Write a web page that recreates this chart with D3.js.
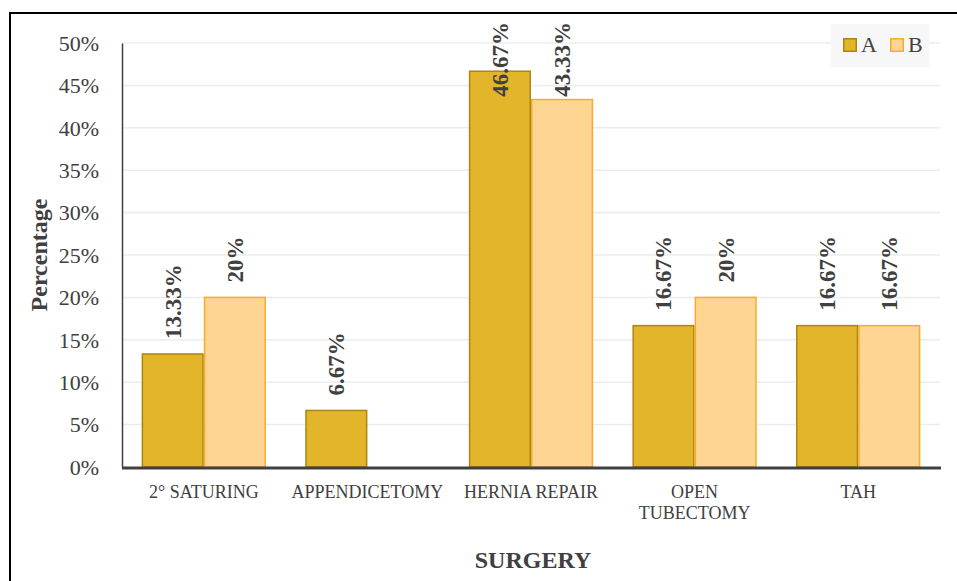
<!DOCTYPE html>
<html>
<head>
<meta charset="utf-8">
<script src="https://cdn.jsdelivr.net/npm/d3@7"></script>
<style>
  html, body { margin: 0; padding: 0; background: #ffffff; }
  svg { display: block; }
  text { font-family: "Liberation Serif", "Times New Roman", serif; fill: #404040; }
</style>
</head>
<body>
<svg id="chart" width="957" height="581"></svg>
<script>
// Surgery categories and the share of each group (A, B)
const categories = ["2° SATURING", "APPENDICETOMY", "HERNIA REPAIR", "OPEN TUBECTOMY", "TAH"];
const categoryLines = [["2° SATURING"], ["APPENDICETOMY"], ["HERNIA REPAIR"], ["OPEN", "TUBECTOMY"], ["TAH"]];
const seriesNames = ["A", "B"];
const valuesA = [13.33, 6.67, 46.67, 16.67, 16.67];
const valuesB = [20, 0, 43.33, 20, 16.67];
const labelsA = ["13.33%", "6.67%", "46.67%", "16.67%", "16.67%"];
const labelsB = ["20%", "", "43.33%", "20%", "16.67%"];
const yTicks = [0, 5, 10, 15, 20, 25, 30, 35, 40, 45, 50];

const fills = { A: "#E2B52A", B: "#FED593" };
const strokes = { A: "#AD860F", B: "#FBAA2C" };

const svg = d3.select("#chart");

// outer frame
svg.append("rect")
  .attr("x", 10).attr("y", 13)
  .attr("width", 1000).attr("height", 600)
  .attr("fill", "#ffffff")
  .attr("stroke", "#000000").attr("stroke-width", 2);

const plotLeft = 122, plotRight = 940, plotTop = 43, plotBottom = 467;

const x = d3.scaleBand().domain(categories).range([plotLeft, plotRight])
  .paddingInner(0.24).paddingOuter(0.12);
const xs = d3.scaleBand().domain(seriesNames).range([0, x.bandwidth()]);
const y = d3.scaleLinear().domain([0, 50]).range([plotBottom, plotTop]);

// horizontal gridlines
svg.append("g").selectAll("line").data(yTicks.filter(t => t > 0)).join("line")
  .attr("x1", plotLeft).attr("x2", plotRight)
  .attr("y1", d => y(d)).attr("y2", d => y(d))
  .attr("stroke", "#ececec").attr("stroke-width", 1.5);

// y axis
const yAxis = d3.axisLeft(y).tickValues(yTicks).tickFormat(d => d + "%").tickSize(0).tickPadding(23);
const gy = svg.append("g").attr("transform", `translate(${plotLeft},0)`).call(yAxis);
gy.select(".domain").attr("stroke", "#404040").attr("stroke-width", 1.5);
gy.selectAll("text")
  .attr("font-size", 22)
  .attr("dy", "0.33em")
  .style("font-family", "'Liberation Serif', serif")
  .attr("fill", "#404040");

// bars
const rows = categories.map((c, i) => ({
  cat: c,
  items: [
    { s: "A", v: valuesA[i], label: labelsA[i] },
    { s: "B", v: valuesB[i], label: labelsB[i] }
  ]
}));

const groups = svg.append("g").selectAll("g").data(rows).join("g")
  .attr("transform", d => `translate(${x(d.cat)},0)`);

groups.selectAll("rect").data(d => d.items.filter(e => e.v > 0)).join("rect")
  .attr("x", d => xs(d.s) + 0.75)
  .attr("width", xs.bandwidth() - 1.5)
  .attr("y", d => y(d.v))
  .attr("height", d => y(0) - y(d.v))
  .attr("fill", d => fills[d.s])
  .attr("stroke", d => strokes[d.s])
  .attr("stroke-width", 1.5);

// value labels, rotated; kept inside the plot top when the bar is tall
groups.selectAll("text.val").data(d => d.items.filter(e => e.label !== "")).join("text")
  .attr("class", "val")
  .attr("font-size", 23)
  .attr("font-weight", "bold")
  .attr("text-anchor", "start")
  .attr("dy", "0.34em")
  .text(d => d.label)
  .each(function(d) {
    const len = this.getComputedTextLength();
    const y0 = Math.max(y(d.v) - 15, 22 + len);
    const cx = xs(d.s) + xs.bandwidth() / 2;
    d3.select(this).attr("transform", `translate(${cx},${y0}) rotate(-90)`);
  });

// baseline
svg.append("line")
  .attr("x1", plotLeft).attr("x2", plotRight + 1)
  .attr("y1", plotBottom + 1).attr("y2", plotBottom + 1)
  .attr("stroke", "#404040").attr("stroke-width", 3);

// category labels
const catG = svg.append("g").selectAll("text").data(categories).join("text")
  .attr("x", d => x(d) + x.bandwidth() / 2)
  .attr("y", 498)
  .attr("text-anchor", "middle")
  .attr("font-size", 18);
catG.each(function(d, i) {
  const t = d3.select(this);
  categoryLines[i].forEach((ln, k) => {
    t.append("tspan").attr("x", x(d) + x.bandwidth() / 2).attr("dy", k === 0 ? 0 : 21).text(ln);
  });
});

// axis titles
svg.append("text")
  .attr("x", 533).attr("y", 568)
  .attr("text-anchor", "middle")
  .attr("font-size", 24).attr("font-weight", "bold")
  .text("SURGERY");

svg.append("text")
  .attr("transform", `translate(47,${(plotTop + plotBottom) / 2}) rotate(-90)`)
  .attr("text-anchor", "middle")
  .attr("font-size", 24).attr("font-weight", "bold")
  .text("Percentage");

// legend
const lg = svg.append("g");
lg.append("rect").attr("x", 831).attr("y", 24).attr("width", 98).attr("height", 43).attr("fill", "#f7f7f7");
const legendX = { A: 843, B: 890 };
seriesNames.forEach(s => {
  lg.append("rect")
    .attr("x", legendX[s] + 0.75).attr("y", 38.75)
    .attr("width", 12.5).attr("height", 12.5)
    .attr("fill", fills[s]).attr("stroke", strokes[s]).attr("stroke-width", 1.5);
  lg.append("text")
    .attr("x", legendX[s] + 18).attr("y", 52)
    .attr("font-size", 22)
    .text(s);
});
</script>
</body>
</html>
